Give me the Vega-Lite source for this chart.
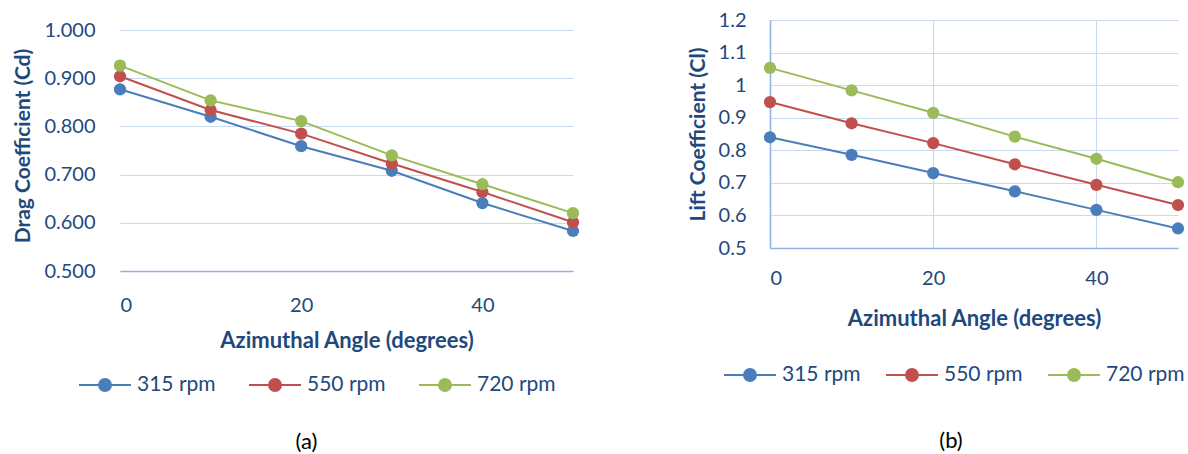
{
  "$schema": "https://vega.github.io/schema/vega-lite/v6.json",
  "background": "white",
  "padding": {"left": 12, "top": 10, "right": 0, "bottom": 0},
  "config": {
    "view": {"stroke": null},
    "font": "Lato",
    "axis": {
      "labelFont": "Lato", "labelFontSize": 20, "labelColor": "#1F497D",
      "titleFont": "Lato", "titleFontSize": 21, "titleFontWeight": "bold", "titleColor": "#1F497D",
      "domainColor": "#8EB4E3", "domainWidth": 1.5, "gridColor": "#C9DAF0", "gridWidth": 1.2,
      "ticks": false, "tickSize": 0
    },
    "axisX": {"titleFontSize": 22},
    "legend": {
      "labelFont": "Lato", "labelFontSize": 21, "labelColor": "#1F497D",
      "symbolType": "M-1,0L1,0M-0.23,0A0.23,0.23 0 1,1 0.23,0A0.23,0.23 0 1,1 -0.23,0Z",
      "symbolSize": 2704, "symbolStrokeWidth": 2, "labelOffset": 5, "direction": "horizontal",
      "orient": "none", "title": null
    }
  },
  "datasets": {
    "drag": [
      {"angle": 0, "rpm": "315 rpm", "v": 0.877}, {"angle": 10, "rpm": "315 rpm", "v": 0.820}, {"angle": 20, "rpm": "315 rpm", "v": 0.759},
      {"angle": 30, "rpm": "315 rpm", "v": 0.708}, {"angle": 40, "rpm": "315 rpm", "v": 0.641}, {"angle": 50, "rpm": "315 rpm", "v": 0.583},
      {"angle": 0, "rpm": "550 rpm", "v": 0.904}, {"angle": 10, "rpm": "550 rpm", "v": 0.834}, {"angle": 20, "rpm": "550 rpm", "v": 0.785},
      {"angle": 30, "rpm": "550 rpm", "v": 0.723}, {"angle": 40, "rpm": "550 rpm", "v": 0.664}, {"angle": 50, "rpm": "550 rpm", "v": 0.601},
      {"angle": 0, "rpm": "720 rpm", "v": 0.926}, {"angle": 10, "rpm": "720 rpm", "v": 0.854}, {"angle": 20, "rpm": "720 rpm", "v": 0.811},
      {"angle": 30, "rpm": "720 rpm", "v": 0.740}, {"angle": 40, "rpm": "720 rpm", "v": 0.680}, {"angle": 50, "rpm": "720 rpm", "v": 0.620}
    ],
    "lift": [
      {"angle": 0, "rpm": "315 rpm", "v": 0.840}, {"angle": 10, "rpm": "315 rpm", "v": 0.786}, {"angle": 20, "rpm": "315 rpm", "v": 0.730},
      {"angle": 30, "rpm": "315 rpm", "v": 0.674}, {"angle": 40, "rpm": "315 rpm", "v": 0.617}, {"angle": 50, "rpm": "315 rpm", "v": 0.560},
      {"angle": 0, "rpm": "550 rpm", "v": 0.948}, {"angle": 10, "rpm": "550 rpm", "v": 0.883}, {"angle": 20, "rpm": "550 rpm", "v": 0.822},
      {"angle": 30, "rpm": "550 rpm", "v": 0.757}, {"angle": 40, "rpm": "550 rpm", "v": 0.694}, {"angle": 50, "rpm": "550 rpm", "v": 0.632},
      {"angle": 0, "rpm": "720 rpm", "v": 1.053}, {"angle": 10, "rpm": "720 rpm", "v": 0.984}, {"angle": 20, "rpm": "720 rpm", "v": 0.915},
      {"angle": 30, "rpm": "720 rpm", "v": 0.842}, {"angle": 40, "rpm": "720 rpm", "v": 0.774}, {"angle": 50, "rpm": "720 rpm", "v": 0.702}
    ],
    "xgrid": [{"g": 20}, {"g": 40}],
    "xzero": [{"g": 0}]
  },
  "spacing": 107,
  "resolve": {"scale": {"color": "independent"}, "legend": {"color": "independent"}},
  "hconcat": [
    {
      "width": 453, "height": 251,
      "title": {"text": "(a)", "orient": "bottom", "fontSize": 22, "font": "Lato", "fontWeight": "normal", "color": "#000000", "dx": -40, "offset": 37},
      "encoding": {
        "x": {"field": "angle", "type": "quantitative", "scale": {"domain": [0, 50], "nice": false},
              "axis": {"values": [0, 20, 40], "grid": false, "title": "Azimuthal Angle (degrees)", "labelPadding": 24, "titlePadding": 15}},
        "y": {"field": "v", "type": "quantitative", "scale": {"domain": [0.5, 1.0208], "nice": false, "zero": false},
              "axis": {"values": [0.5, 0.6, 0.7, 0.8, 0.9, 1.0], "domain": false, "format": ".3f", "title": "Drag Coefficient (Cd)", "labelPadding": 25, "titlePadding": 10}}
      },
      "layer": [
        {"data": {"name": "xgrid"}, "mark": {"type": "rule", "color": "#C9DAF0", "strokeWidth": 1.2},
         "encoding": {"x": {"field": "g", "type": "quantitative"}, "y": {"datum": 0.5}, "y2": {"datum": 1.0}}},
        {"data": {"name": "xzero"}, "mark": {"type": "rule", "color": "#8EB4E3", "strokeWidth": 1.5},
         "encoding": {"x": {"field": "g", "type": "quantitative"}, "y": {"datum": 0.5}, "y2": {"datum": 1.0}}},
        {"data": {"name": "drag"}, "mark": {"type": "line", "strokeWidth": 2},
         "encoding": {"color": {"field": "rpm", "type": "nominal", "scale": {"range": ["#4A7EBB", "#C0504D", "#9BBB59"]},
                      "legend": {"legendX": -42, "legendY": 338, "columnPadding": 29}}}},
        {"data": {"name": "drag"}, "mark": {"type": "point", "filled": true, "size": 150, "opacity": 1},
         "encoding": {"color": {"field": "rpm", "type": "nominal", "scale": {"range": ["#4A7EBB", "#C0504D", "#9BBB59"]},
                      "legend": {"legendX": -42, "legendY": 338, "columnPadding": 29}}}}
      ]
    },
    {
      "data": {"name": "lift"},
      "width": 408, "height": 228,
      "title": {"text": "(b)", "orient": "bottom", "fontSize": 22, "font": "Lato", "fontWeight": "normal", "color": "#000000", "dx": -23, "offset": 46},
      "encoding": {
        "x": {"field": "angle", "type": "quantitative", "scale": {"domain": [0, 50], "nice": false},
              "axis": {"values": [0, 20, 40], "title": "Azimuthal Angle (degrees)", "labelPadding": 20, "titlePadding": 20}},
        "y": {"field": "v", "type": "quantitative", "scale": {"domain": [0.5, 1.2], "nice": false, "zero": false},
              "axis": {"values": [0.5, 0.6, 0.7, 0.8, 0.9, 1.0, 1.1, 1.2], "format": "~g", "title": "Lift Coefficient (Cl)", "labelPadding": 24, "titlePadding": 10}},
        "color": {"field": "rpm", "type": "nominal", "scale": {"range": ["#4A7EBB", "#C0504D", "#9BBB59"]},
                  "legend": {"legendX": -47, "legendY": 328, "columnPadding": 21}}
      },
      "layer": [
        {"mark": {"type": "line", "strokeWidth": 2}},
        {"mark": {"type": "point", "filled": true, "size": 150, "opacity": 1}}
      ]
    }
  ]
}
